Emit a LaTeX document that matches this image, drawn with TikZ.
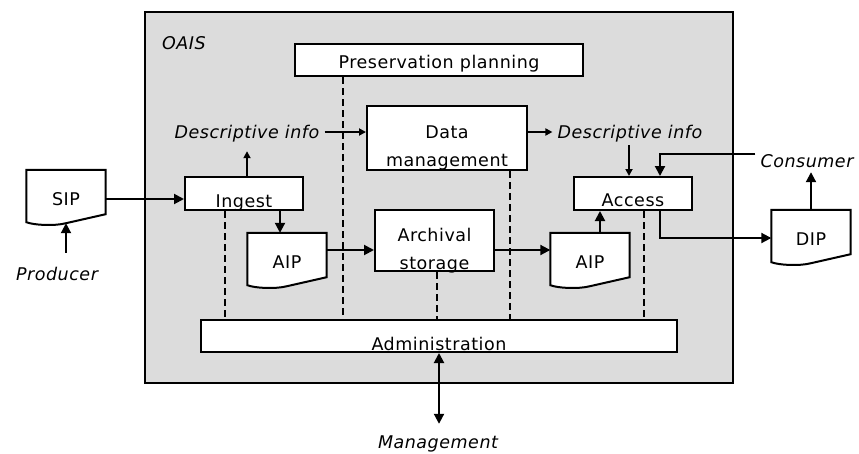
\documentclass[tikz,border=0pt]{standalone}
\usepackage{fontspec}
\setmainfont{DejaVu Sans}[LetterSpace=3]
\usetikzlibrary{arrows.meta,calc}
\definecolor{oaisgray}{HTML}{DCDCDC}
\pgfdeclarelayer{bottom}
\pgfdeclarelayer{back}
\pgfsetlayers{bottom,back,main}
\begin{document}
\begin{tikzpicture}[x=1pt,y=-1pt,
  font=\fontsize{17.5}{28}\selectfont,
  box/.style={draw,fill=white,rectangle,inner sep=0pt,line width=2pt},
  doc/.style={rectangle,inner sep=0pt,minimum width=79pt,text height=35pt,text depth=9pt},
  lbl/.style={inner xsep=5pt,font=\fontsize{17.5}{28}\selectfont\itshape},
  arr/.style={line width=2pt,-{Triangle[length=10pt,width=10pt]}},
  sarr/.style={line width=1.8pt,-{Triangle[length=7pt,width=7pt]}},
  darr/.style={line width=2pt,{Triangle[length=10pt,width=10pt]}-{Triangle[length=10pt,width=10pt]}},
  dashln/.style={line width=1.6pt,dash pattern=on 7pt off 4pt},
  docshape/.style={draw,fill=white,line width=2pt}]
\useasboundingbox (0,0) rectangle (859,453);
\begin{pgfonlayer}{bottom}
\node[draw,fill=oaisgray,line width=2pt,minimum width=588pt,minimum height=371pt,inner sep=0pt] (oais) at (439,197.5) {};
\end{pgfonlayer}
\node[lbl,anchor=base west,inner sep=0pt] (oaislbl) at (162,49) {OAIS};
% boxes
\node[box,minimum width=288pt,text height=24.5pt,text depth=7.5pt] (pres) at (439,60) {Preservation planning};
\node[box,minimum width=160pt,text height=32pt,text depth=32pt] (dm) at (447,138) {\begin{tabular}[t]{@{}c@{}}Data\\management\end{tabular}};
\node[box,minimum width=118pt,text height=30pt,text depth=3pt] (ingest) at (244,193.5) {Ingest};
\node[box,minimum width=119pt,text height=31.5pt,text depth=29.5pt] (arch) at (434.5,240.5) {\begin{tabular}[t]{@{}c@{}}Archival\\storage\end{tabular}};
\node[box,minimum width=118pt,text height=29pt,text depth=4pt] (access) at (633,193.5) {Access};
\node[box,minimum width=476pt,text height=30pt,text depth=2pt] (admin) at (439,336) {Administration};
% documents
\node[doc] (sip) at (66,192) {SIP};
\node[doc] (aipa) at (287,255) {AIP};
\node[doc] (aipb) at (590,255) {AIP};
\node[doc] (dip) at (811,232) {DIP};
\begin{pgfonlayer}{back}
\foreach \d in {sip,aipa,aipb,dip}{
  \draw[docshape] (\d.north west) -- (\d.north east) -- (\d.south east)
    -- ($(\d.south)+(0,9)$)
    .. controls ($(\d.south west)+(28,12)$) and ($(\d.south west)+(8,11)$) .. ($(\d.south west)+(0,8)$)
    -- cycle;
}
\end{pgfonlayer}
% labels
\node[lbl,anchor=base,text height=16pt,text depth=4pt,inner ysep=9pt] (descL) at (247,138) {Descriptive info};
\node[lbl,anchor=base,text height=16pt,text depth=4pt,inner ysep=9pt] (descR) at (630,138) {Descriptive info};
\node[lbl,anchor=base,text height=14pt,text depth=0pt,inner ysep=5pt] (cons) at (807,167) {Consumer};
\node[lbl,anchor=base,text height=13pt,text depth=0pt,inner ysep=14pt] (prod) at (57,280) {Producer};
\node[lbl,anchor=base,text height=13pt,text depth=0pt,inner ysep=11pt] (mgmt) at (438,448) {Management};
% dashed links to administration
\draw[dashln] ([xshift=-19pt]ingest.south) -- ([xshift=-19pt]ingest.south |- admin.north);
\draw[dashln] ([xshift=-96pt]pres.south) -- ([xshift=-96pt]pres.south |- admin.north);
\draw[dashln] ([xshift=2.5pt]arch.south) -- ([xshift=2.5pt]arch.south |- admin.north);
\draw[dashln] ([xshift=63pt]dm.south) -- ([xshift=63pt]dm.south |- admin.north);
\draw[dashln] ([xshift=11pt]access.south) -- ([xshift=11pt]access.south |- admin.north);
% flows
\draw[arr] ([yshift=-7pt]sip.east) -- ([yshift=-7pt]sip.east -| ingest.west);
\draw[arr] (sip.south |- prod.north) -- ([yshift=-9pt]sip.south);
\draw[sarr] (descL.south |- ingest.north) -- (descL.south);
\draw[sarr] (descL.east) -- (descL.east -| dm.west);
\draw[sarr] (dm.east |- descR.west) -- (descR.west);
\draw[sarr] ([xshift=-4pt,yshift=6pt]access.north |- descR.south) -- ([xshift=-4pt]access.north);
\draw[arr] ([xshift=36pt]ingest.south) -- ([xshift=36pt]ingest.south |- aipa.north);
\draw[arr] ([yshift=5pt]aipa.east) -- ([yshift=5pt]aipa.east -| arch.west);
\draw[arr] ([yshift=5pt]aipb.west -| arch.east) -- ([yshift=5pt]aipb.west);
\draw[arr] ([xshift=10pt]aipb.north) -- ([xshift=10pt]aipb.north |- access.south);
\draw[arr] ([yshift=6pt]cons.west) -| ([xshift=27pt]access.north);
\draw[arr] ([xshift=27pt]access.south) |- ([yshift=-6pt]dip.west);
\draw[arr] (dip.north) -- (dip.north |- cons.south);
\draw[darr] (admin.south) -- (admin.south |- mgmt.north);
\end{tikzpicture}
\end{document}
